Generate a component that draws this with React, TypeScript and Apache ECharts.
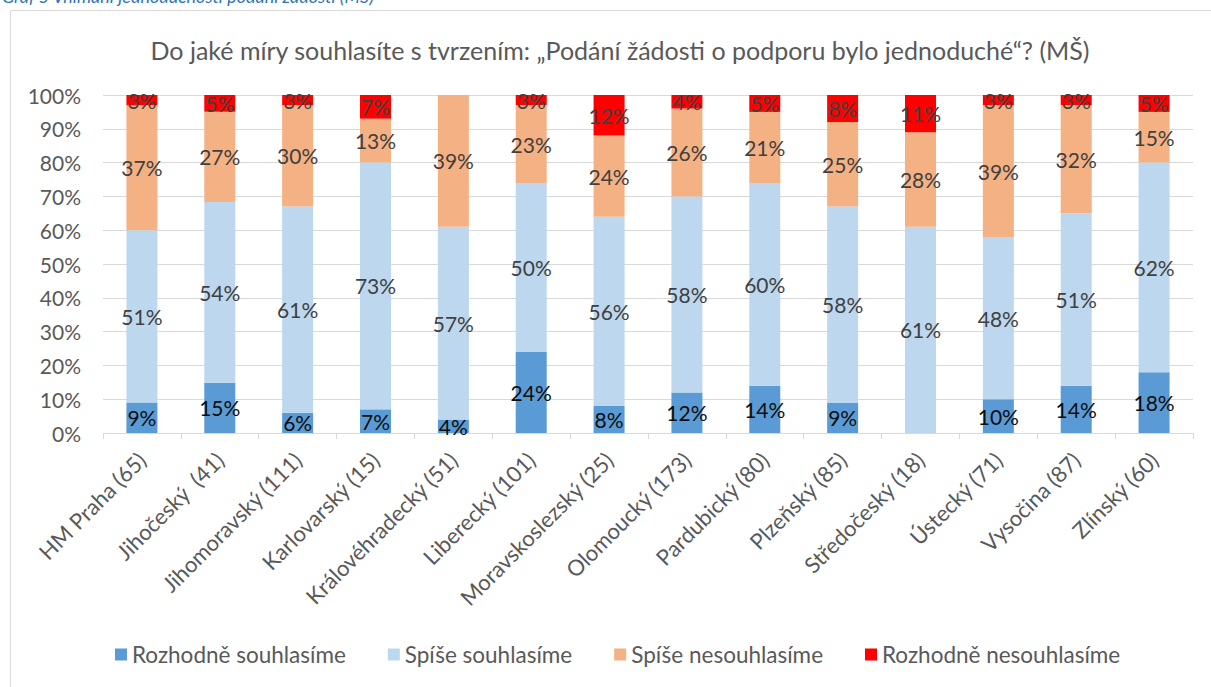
import React, { useEffect, useRef } from "react";
import * as echarts from "echarts";

const categories = [
  "HM Praha (65)",
  "Jihočeský  (41)",
  "Jihomoravský (111)",
  "Karlovarský (15)",
  "Královéhradecký (51)",
  "Liberecký (101)",
  "Moravskoslezský (25)",
  "Olomoucký (173)",
  "Pardubický (80)",
  "Plzeňský (85)",
  "Středočeský (18)",
  "Ústecký (71)",
  "Vysočina (87)",
  "Zlínský (60)",
];
const rozhodneSouhlasime = [9, 15, 6, 7, 4, 24, 8, 12, 14, 9, 0, 10, 14, 18];
const spiseSouhlasime = [51, 54, 61, 73, 57, 50, 56, 58, 60, 58, 61, 48, 51, 62];
const spiseNesouhlasime = [37, 27, 30, 13, 39, 23, 24, 26, 21, 25, 28, 39, 32, 15];
const rozhodneNesouhlasime = [3, 5, 3, 7, 0, 3, 12, 4, 5, 8, 11, 3, 3, 5];
const yTicks = [0, 10, 20, 30, 40, 50, 60, 70, 80, 90, 100];

const seriesNames = [
  "Rozhodně souhlasíme",
  "Spíše souhlasíme",
  "Spíše nesouhlasíme",
  "Rozhodně nesouhlasíme",
];
const seriesColors = ["#5B9BD5", "#BDD7EE", "#F4B183", "#FF0000"];
const labelColors = ["#0d0d0d", "#404040", "#404040", "#404040"];

const FONT = "Lato, 'Open Sans', sans-serif";

export default function App() {
  const ref = useRef<HTMLDivElement>(null);
  useEffect(() => {
    document.body.style.margin = "0";
    if (!ref.current) return;
    const chart = echarts.init(ref.current, undefined, { renderer: "svg" });
    const all = [rozhodneSouhlasime, spiseSouhlasime, spiseNesouhlasime, rozhodneNesouhlasime];
    const totals = categories.map((_, i) => all.reduce((s, arr) => s + arr[i], 0));
    const series = all.map((arr, si) => ({
      name: seriesNames[si],
      type: "bar",
      stack: "total",
      barWidth: 31,
      itemStyle: { color: seriesColors[si] },
      label: {
        show: true,
        position: "inside",
        color: labelColors[si],
        fontFamily: FONT,
        fontSize: 21,
        formatter: (p: any) => (p.data.raw ? p.data.raw + "%" : ""),
      },
      data: arr.map((v, i) => ({ value: (v / totals[i]) * 100, raw: v })),
    }));
    chart.setOption({
      animation: false,
      textStyle: { fontFamily: FONT },
      title: {
        text: "Do jaké míry souhlasíte s tvrzením: „Podání žádosti o podporu bylo jednoduché“? (MŠ)",
        left: 615,
        textAlign: "center",
        top: 32,
        textStyle: { color: "#595959", fontSize: 25, fontWeight: "normal", fontFamily: FONT },
      },
      legend: {
        bottom: 16,
        left: 110,
        icon: "rect",
        itemWidth: 12,
        itemHeight: 12,
        itemGap: 42,
        textStyle: { color: "#595959", fontSize: 22.5, fontFamily: FONT },
        data: seriesNames,
      },
      grid: { left: 103, top: 95, width: 1090, height: 338 },
      xAxis: {
        type: "category",
        data: categories,
        axisLine: { lineStyle: { color: "#d9d9d9", width: 1 } },
        axisTick: { show: true, length: 6, lineStyle: { color: "#d9d9d9" } },
        axisLabel: {
          rotate: 45,
          color: "#595959",
          fontSize: 22,
          fontFamily: FONT,
          margin: 23,
          interval: 0,
        },
      },
      yAxis: {
        type: "value",
        min: 0,
        max: 100,
        interval: 10,
        axisLine: { show: false },
        axisTick: { show: false },
        splitLine: { lineStyle: { color: "#d9d9d9", width: 1 } },
        axisLabel: {
          color: "#595959",
          fontSize: 21,
          fontFamily: FONT,
          margin: 22,
          customValues: yTicks,
          formatter: (v: number) => v + "%",
        },
      },
      graphic: [
        {
          type: "rect",
          shape: { x: 10.5, y: 10.5, width: 1400, height: 900 },
          style: { fill: "none", stroke: "#d9d9d9", lineWidth: 1 },
          silent: true,
        },
        {
          type: "text",
          x: 2,
          y: 5,
          style: {
            text: "Graf 5 Vnímání jednoduchosti podání žádosti (MŠ)",
            fill: "#2E74B5",
            font: "italic 18px " + FONT,
            textVerticalAlign: "bottom",
          },
          silent: true,
        },
      ],
      series,
    });
    return () => chart.dispose();
  }, []);
  return <div ref={ref} style={{ width: 1211, height: 687 }} />;
}
